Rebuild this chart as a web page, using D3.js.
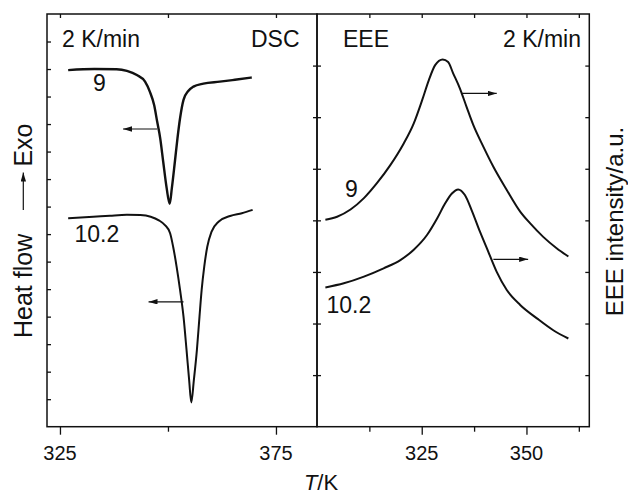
<!DOCTYPE html>
<html><head><meta charset="utf-8">
<script src="https://cdn.jsdelivr.net/npm/d3@7"></script>
<style>
body{margin:0;background:#fff}
svg{display:block}
text{font-family:"Liberation Sans",Arial,Helvetica,sans-serif;fill:#111}
</style>
</head><body>
<svg id="c" width="628" height="495"></svg>
<script>
// ---- DATA ----
// DSC curves (left panel), temperature in K, heat flow in a.u.
const dsc9T  = [326.9,333.0,338.1,340.5,342.8,344.7,345.8,346.8,347.5,348.2,348.9,349.7,350.4,350.9,351.6,352.2,352.8,353.6,354.7,355.9,358.2,362.0,365.5,369.4];
const dsc9Y  = [12.96,13.00,12.99,12.93,12.78,12.54,12.18,11.69,11.09,10.49,9.63,8.67,8.10,8.67,9.63,10.48,11.21,11.88,12.20,12.36,12.47,12.54,12.61,12.69];
const dsc102T = [326.9,332.7,336.6,340.5,343.6,346.0,347.9,349.3,350.5,351.2,352.0,352.8,353.6,354.3,354.9,355.4,356.0,356.7,357.3,357.8,358.4,359.1,360.1,361.7,364.4,367.1,369.6];
const dsc102Y = [7.58,7.63,7.67,7.70,7.69,7.63,7.50,7.33,7.03,6.54,5.82,4.97,4.00,2.79,1.70,0.88,1.70,2.79,4.00,4.97,5.82,6.54,7.09,7.45,7.66,7.76,7.88];
// EEE curves (right panel), temperature in K, intensity in a.u.
const eee9T  = [302.0,304.8,308.0,311.2,314.3,317.5,320.7,323.1,325.1,326.7,328.2,330.0,331.3,332.5,334.1,335.7,337.3,339.7,342.1,345.3,348.5,350.9,354.0,357.2,360.0];
const eee9Y  = [4.01,4.07,4.21,4.43,4.72,5.07,5.49,5.88,6.33,6.72,7.01,7.12,7.07,6.85,6.56,6.20,5.85,5.43,5.04,4.59,4.17,3.94,3.68,3.46,3.30];
const eee102T = [302.0,306.4,311.2,315.9,319.9,323.1,326.3,328.7,330.6,332.2,333.7,335.3,336.9,338.9,340.9,342.9,345.3,348.5,352.5,356.4,360.0];
const eee102Y = [2.70,2.78,2.91,3.07,3.23,3.43,3.72,4.04,4.33,4.52,4.60,4.49,4.20,3.78,3.39,3.00,2.65,2.36,2.10,1.87,1.71];
// Direction arrows [T start, T end, y]
const dscArrows = [[347.5,339.6,10.82],[353.6,345.5,4.54]];
const eeeArrows = [[334.5,342.9,6.46],[342.1,350.4,3.245]];
// Ticks
const leftMajor = [325,375], leftMinor = [350];
const rightMajor = [325,350], rightMinor = [312.5,337.5,362.5];
const leftYTicks = [1,2,3,4,5,6,7,8,9,10,11,12,13,14];
const rightYTicks = [1,2,3,4,5,6,7];
// Labels
const curveLabels = ["9","10.2"];
const rateLabel = "2 K/min";

// ---- LAYOUT ----
const svg = d3.select("#c");
const yTop = 14, yBot = 426.7, L0 = 47, Mid = 317, R1 = 589.3;
const xL = d3.scaleLinear().domain([322,384.5]).range([L0,Mid]);
const yL = d3.scaleLinear().domain([0,15]).range([yBot,yTop]);
const xR = d3.scaleLinear().domain([300,365]).range([Mid,R1]);
const yR = d3.scaleLinear().domain([0,8]).range([yBot,yTop]);

const ink = "#111";
svg.append("defs").append("marker").attr("id","ah")
  .attr("viewBox","0 0 10 6").attr("refX",10).attr("refY",3)
  .attr("markerWidth",9).attr("markerHeight",5.4).attr("markerUnits","userSpaceOnUse")
  .attr("orient","auto").append("path").attr("d","M0,0L10,3L0,6Z").attr("fill",ink);

function styleAxis(g){ g.select(".domain").remove(); g.selectAll("line").attr("stroke",ink).attr("stroke-width",1.3); g.selectAll("text").remove(); }

function bottomAxis(x, major, minor){
  svg.append("g").attr("transform",`translate(0,${yBot})`).call(d3.axisBottom(x).tickValues(major).tickSize(8)).call(styleAxis);
  svg.append("g").attr("transform",`translate(0,${yBot})`).call(d3.axisBottom(x).tickValues(minor).tickSize(5)).call(styleAxis);
  svg.append("g").attr("transform",`translate(0,${yTop})`).call(d3.axisBottom(x).tickValues(major.concat(minor)).tickSize(4)).call(styleAxis);
  svg.append("g").selectAll("text").data(major).join("text")
    .attr("x",d=>x(d)).attr("y",460).attr("text-anchor","middle").attr("font-size",20).text(d=>d);
}
bottomAxis(xL,leftMajor,leftMinor);
bottomAxis(xR,rightMajor,rightMinor);

svg.append("g").attr("transform",`translate(${L0},0)`).call(d3.axisRight(yL).tickValues(leftYTicks).tickSize(4)).call(styleAxis);
svg.append("g").attr("transform",`translate(${Mid},0)`).call(d3.axisRight(yR).tickValues(rightYTicks).tickSize(4)).call(styleAxis);
svg.append("g").attr("transform",`translate(${Mid},0)`).call(d3.axisLeft(yR).tickValues(rightYTicks).tickSize(4)).call(styleAxis);
svg.append("g").attr("transform",`translate(${R1},0)`).call(d3.axisLeft(yR).tickValues(rightYTicks).tickSize(4)).call(styleAxis);

svg.append("rect").attr("x",L0).attr("y",yTop).attr("width",Mid-L0).attr("height",yBot-yTop).attr("fill","none").attr("stroke",ink).attr("stroke-width",1.5);
svg.append("rect").attr("x",Mid).attr("y",yTop).attr("width",R1-Mid).attr("height",yBot-yTop).attr("fill","none").attr("stroke",ink).attr("stroke-width",1.5);

function curve(x,y,T,V,w){
  const line = d3.line().x(d=>x(d[0])).y(d=>y(d[1])).curve(d3.curveMonotoneX);
  svg.append("path").attr("d",line(T.map((t,i)=>[t,V[i]]))).attr("fill","none").attr("stroke",ink).attr("stroke-width",w).attr("stroke-linejoin","round");
}
curve(xL,yL,dsc9T,dsc9Y,2.4);
curve(xL,yL,dsc102T,dsc102Y,2);
curve(xR,yR,eee9T,eee9Y,2);
curve(xR,yR,eee102T,eee102Y,2);

function arrows(x,y,data){
  svg.append("g").selectAll("line").data(data).join("line")
    .attr("x1",d=>x(d[0])).attr("x2",d=>x(d[1])).attr("y1",d=>y(d[2])).attr("y2",d=>y(d[2]))
    .attr("stroke",ink).attr("stroke-width",1.2).attr("marker-end","url(#ah)");
}
arrows(xL,yL,dscArrows);
arrows(xR,yR,eeeArrows);

const fs = 23;
function txt(x,y,s,anchor,size){ return svg.append("text").attr("x",x).attr("y",y).attr("text-anchor",anchor||"start").attr("font-size",size||fs).text(s); }
txt(62,46.5,rateLabel);
txt(299.5,46.5,"DSC","end");
txt(343,47,"EEE");
txt(581,47,rateLabel,"end");
txt(93,91,curveLabels[0]);
txt(74.5,241.5,curveLabels[1]);
txt(345,197,curveLabels[0]);
txt(326.5,313,curveLabels[1]);

svg.append("text").attr("x",321).attr("y",490).attr("text-anchor","middle").attr("font-size",22)
  .call(t=>{t.append("tspan").attr("font-style","italic").text("T"); t.append("tspan").text("/K");});
svg.append("text").attr("transform","translate(32,338) rotate(-90)").attr("font-size",25).text("Heat flow");
svg.append("text").attr("transform","translate(32,123.5) rotate(-90)").attr("text-anchor","end").attr("font-size",25).text("Exo");
svg.append("line").attr("x1",23.3).attr("x2",23.3).attr("y1",210).attr("y2",172.5)
  .attr("stroke",ink).attr("stroke-width",1.2).attr("marker-end","url(#ah)");
svg.append("text").attr("transform","translate(623,221.5) rotate(-90)").attr("text-anchor","middle").attr("font-size",24).text("EEE intensity/a.u.");
</script>
</body></html>
